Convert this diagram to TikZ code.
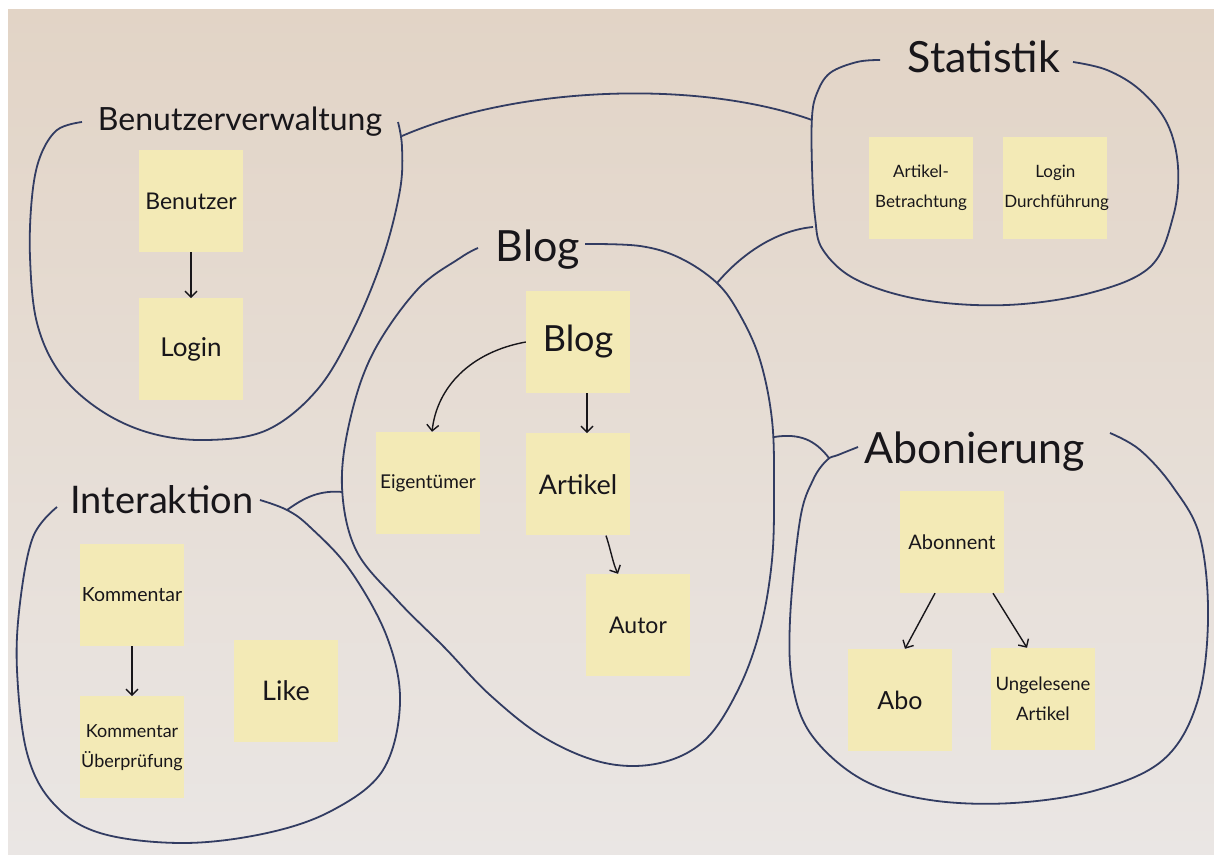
\documentclass[tikz,border=0pt]{standalone}
\usepackage{fontspec}
\setmainfont{Lato}
\usetikzlibrary{arrows.meta, positioning}

\definecolor{boardtop}{RGB}{226,212,198}
\definecolor{boardbot}{RGB}{234,230,228}
\definecolor{postit}{RGB}{243,234,182}
\definecolor{marker}{RGB}{50,60,98}
\definecolor{ink}{RGB}{24,22,26}

\begin{document}
\begin{tikzpicture}[
    x=1pt, y=-1pt,
    node distance=46pt,
    note/.style={rectangle, fill=postit, minimum width=104pt, minimum height=102pt, inner sep=1pt, text width=102pt, align=center, text=ink, font=\fontsize{19}{28}\selectfont},
    heading/.style={text=ink, inner sep=0pt, font=\fontsize{38}{42}\selectfont},
    ring/.style={draw=marker, line width=1.8pt, smooth, tension=0.6},
    link/.style={draw=marker, line width=1.8pt},
    arrow/.style={-{Straight Barb[length=6pt,width=12pt]}, line width=1.4pt, draw=ink}
]
    \useasboundingbox (0,0) rectangle (1214,854);
    \fill[white] (0,0) rectangle (1214,854);
    \fill[top color=boardtop, bottom color=boardbot] (8,9) rectangle (1214,854);

    % Benutzerverwaltung
    \node[heading, font=\fontsize{32}{36}\selectfont] (bvtitle) at (240,122) {Benutzerverwaltung};
    \node[note, font=\fontsize{23}{28}\selectfont] (benutzer) at (191,201) {Benutzer};
    \node[note, font=\fontsize{26}{30}\selectfont, below=of benutzer] (login) {Login};
    \draw[ring] plot coordinates {(82,122) (57,130) (40,157) (32,197) (30,257) (37,323) (60,373) (100,410) (150,433) (207,440) (267,430) (317,390) (353,330) (383,257) (400,190) (402,147) (398,122)};
    \coordinate (bvjoin) at (402,136);

    % Statistik
    \node[heading, font=\fontsize{43}{46}\selectfont] (sttitle) at (984,57) {Statistik};
    \node[note, font=\fontsize{17}{30}\selectfont] (betrachtung) at (921,188) {Artikel-\\Betrachtung};
    \node[note, font=\fontsize{17}{30}\selectfont, right=30pt of betrachtung] (durchfuehrung) {Login\\Durchführung};
    \draw[ring] plot coordinates {(880,60) (857,62) (830,73) (817,93) (812,117) (812,167) (815,217) (823,250) (857,280) (923,300) (1007,305) (1090,293) (1150,267) (1173,217) (1178,167) (1167,123) (1140,90) (1107,70) (1073,62)};
    \coordinate (stjoinA) at (812,120);
    \coordinate (stjoinB) at (813,227);

    % Blog
    \node[heading, font=\fontsize{43}{46}\selectfont] (blogtitle) at (538,250) {Blog};
    \node[note, font=\fontsize{36}{40}\selectfont] (blog) at (578,342) {Blog};
    \node[note] (eigentuemer) at (428,483) {Eigentümer};
    \node[note, font=\fontsize{27}{30}\selectfont, below=40pt of blog] (artikel) {Artikel};
    \node[note, font=\fontsize{23}{26}\selectfont] (autor) at (638,625) {Autor};
    \draw[ring] plot coordinates {(478,248) (460,258) (417,290) (373,353) (350,420) (342,487) (356,550) (397,600) (445,648) (490,695) (545,738) (605,763) (660,763) (705,740) (738,690) (760,630) (772,560) (774,487) (772,420) (760,360) (740,315) (717,283) (680,258) (640,246) (585,244)};
    \coordinate (blogjoinA) at (717,283);
    \coordinate (blogjoinB) at (774,437);
    \coordinate (blogjoinC) at (343,492);

    % Abonierung
    \node[heading, font=\fontsize{43}{46}\selectfont] (abtitle) at (975,452) {Abonierung};
    \node[note, font=\fontsize{20}{28}\selectfont] (abonnent) at (952,542) {Abonnent};
    \node[note, font=\fontsize{25}{28}\selectfont] (abo) at (900,700) {Abo};
    \node[note, font=\fontsize{18.5}{30}\selectfont] (ungelesen) at (1043,699) {Ungelesene\\Artikel};
    \draw[ring] plot coordinates {(858,447) (838,455) (827,460) (813,480) (800,520) (790,620) (793,687) (813,737) (863,780) (930,800) (1013,803) (1097,790) (1163,760) (1197,703) (1208,620) (1200,537) (1173,487) (1140,450) (1110,433)};
    \coordinate (abjoin) at (829,458);

    % Interaktion
    \node[heading] (intitle) at (162,500) {Interaktion};
    \node[note, font=\fontsize{19.5}{28}\selectfont] (kommentar) at (132,595) {Kommentar};
    \node[note, font=\fontsize{18}{30}\selectfont, below=50pt of kommentar] (pruefung) {Kommentar\\Überprüfung};
    \node[note, font=\fontsize{27}{30}\selectfont] (like) at (286,691) {Like};
    \draw[ring] plot coordinates {(57,507) (33,537) (20,603) (17,670) (27,753) (53,803) (100,833) (183,843) (267,833) (333,810) (383,770) (400,703) (387,637) (350,570) (310,527) (287,510) (260,500)};
    \coordinate (injoin) at (287,510);

    % links between the groups
    \draw[link] (bvjoin) .. controls (520,85) and (700,80) .. (stjoinA);
    \draw[link] (blogjoinA) .. controls (745,250) and (780,230) .. (stjoinB);
    \draw[link] (blogjoinB) .. controls (800,433) and (815,440) .. (abjoin);
    \draw[link] (injoin) .. controls (305,497) and (320,490) .. (blogjoinC);

    % arrows between the notes
    \draw[arrow] (benutzer) -- (login);
    \draw[arrow] (kommentar) -- (pruefung);
    \draw[arrow] (blog.west) .. controls +(-55,10) and +(5,-45) .. ([xshift=4pt]eigentuemer.north);
    \draw[arrow] ([xshift=9pt]blog.south) -- ([xshift=9pt]artikel.north);
    \draw[arrow] ([xshift=28pt]artikel.south) .. controls +(5,15) and +(-5,-10) .. ([xshift=-20pt]autor.north);
    \draw[arrow] ([xshift=-17pt]abonnent.south) -- ([xshift=5pt]abo.north);
    \draw[arrow] ([xshift=41pt]abonnent.south) -- ([xshift=-16pt]ungelesen.north);
\end{tikzpicture}
\end{document}
